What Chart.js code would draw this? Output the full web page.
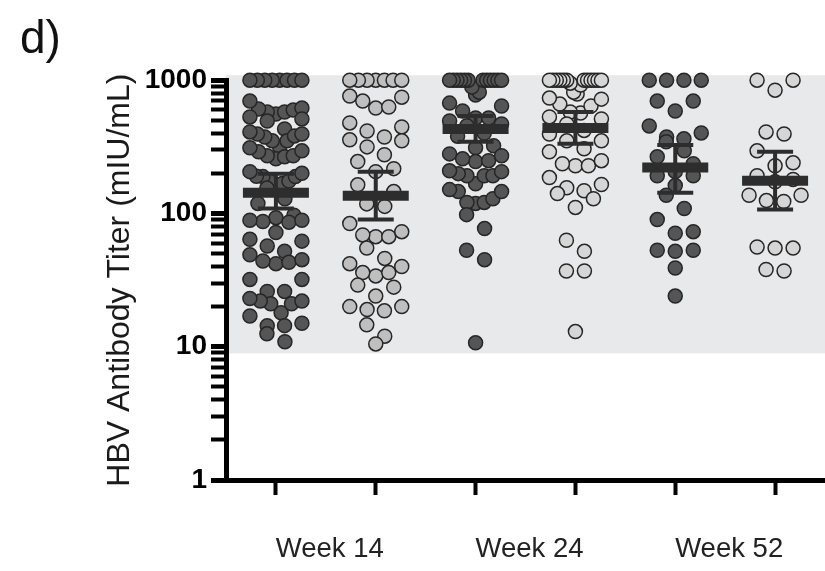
<!DOCTYPE html>
<html>
<head>
<meta charset="utf-8">
<title>HBV antibody titer</title>
<script src="https://cdn.jsdelivr.net/npm/chart.js@4.4.0/dist/chart.umd.min.js"></script>
<style>
    html, body { margin: 0; padding: 0; background: #fff; }
    #wrap { width: 825px; height: 571px; }
</style>
</head>
<body>
<div id="wrap"><canvas id="titerChart"></canvas></div>
<script>
// Groups along the x axis, two columns (dark / light) per week
const categories = ['Week 14', 'Week 24', 'Week 52'];
const yTicks = [1, 10, 100, 1000];
const bandRange = [8.9, 1090];   // shaded region behind the dots

// Individual titers (mIU/mL), values above the assay limit sit at 1000
const week14Dark = [1000, 1000, 1000, 1000, 1000, 1000, 1000, 1000,
    697, 618, 608, 597, 577, 577, 557, 530, 512, 494,
    431, 409, 395, 395, 382, 375, 351, 351,
    316, 311, 295, 290, 271, 271, 266, 257,
    206, 200, 190, 189, 189, 175, 175, 168, 165, 155, 129, 119,
    97, 93, 89, 89, 87, 86, 72, 64, 62, 57, 52, 49, 45, 44, 43, 42,
    32, 32, 26, 26, 23, 22, 22, 21, 21, 18, 17, 15, 14.4, 14.4, 12.5, 10.9];
const week14Light = [1000, 1000, 1000, 1000, 1000, 1000, 1000,
    760, 746, 697, 629, 618, 478, 446, 416, 375, 357, 351, 316,
    276, 245, 217, 206, 164, 146, 127, 118, 113,
    84, 73, 69, 67, 67, 55, 46, 42, 40, 36, 36, 34, 29, 28, 24,
    20, 20, 19, 18.6, 14.6, 12, 10.5];
const week24Dark = [1000, 1000, 1000, 1000, 1000, 1000, 1000, 1000, 1000, 1000, 1000, 1000,
    887, 813, 773, 673, 640, 587, 520, 520, 494, 470, 455, 400, 380,
    322, 311, 280, 271, 257, 249, 245, 209, 206, 199, 192, 192, 192, 167,
    151, 146, 146, 129, 121, 121, 119, 98, 77, 53, 45, 10.7];
const week24Light = [1000, 1000, 1000, 1000, 1000, 1000, 1000, 1000, 1000, 1000, 1000, 1000,
    950, 920, 813, 787, 734, 721, 662, 640, 577, 567, 530, 512, 470, 420,
    395, 351, 351, 306, 290, 249, 236, 228, 228, 186, 165, 156, 148, 141,
    129, 111, 63, 52, 37, 37, 13];
const week52Dark = [1000, 1000, 1000, 1000, 697, 697, 587, 454, 402, 375, 363, 345,
    295, 266, 236, 206, 192, 192, 162, 137, 109, 90, 73, 71, 53, 53, 52, 39, 24];
const week52Light = [1000, 1000, 842, 409, 395, 295, 240, 228, 192, 180, 173,
    137, 137, 125, 123, 56, 55, 55, 38, 37];

// Geometric mean with 95% CI for each column
const geoMean = [143, 136, 431, 438, 221, 176];
const ciLow = [109, 90, 345, 333, 143, 107];
const ciHigh = [199, 206, 539, 577, 327, 290];

const FONT = "'Liberation Sans', Arial, Helvetica, sans-serif";
const DARK_FILL = '#555555';
const BAR_COLOR = '#2d2d2d';

// swarm layout, in pixels of the plot (1 decade = 133px, 1 column = 100px)
const PX_PER_DECADE = 400 / 3;
const PX_PER_UNIT = 599 / 6;
const ROW_PX = 15;
const SLOT_PX = 18;
const HALF_SPREAD = 26;

// Prism style dot plot: dots grouped in rows, lowest value of a row in the middle
function swarm(values, column) {
    const sorted = values.slice().sort((a, b) => b - a);
    const rows = [];
    let row = null, rowTop = 0;
    sorted.forEach(v => {
        const depth = (3 - Math.log10(v)) * PX_PER_DECADE;
        if (!row || depth - rowTop >= ROW_PX) {
            row = [];
            rows.push(row);
            rowTop = depth;
        }
        row.push(v);
    });

    const pts = [];
    rows.forEach(r => {
        r.sort((a, b) => a - b);
        const n = r.length;
        const step = n > 1 ? Math.min(SLOT_PX, 2 * HALF_SPREAD / (n - 1)) : 0;
        const slots = [];
        for (let j = 0; j < n; j++) slots.push((j - (n - 1) / 2) * step);
        slots.sort((a, b) => Math.abs(a) - Math.abs(b) || b - a);
        r.forEach((v, i) => pts.push({ x: column + slots[i] / PX_PER_UNIT, y: v }));
    });
    return pts;
}

function dotSet(values, column, fill) {
    return {
        type: 'scatter',
        data: swarm(values, column),
        pointRadius: 7,
        pointHoverRadius: 7,
        pointBackgroundColor: fill,
        pointBorderColor: '#262626',
        pointBorderWidth: 1.5,
        clip: false,
        order: 3
    };
}

const columns = geoMean.map((v, i) => i + 1);

const whiskers = [];
columns.forEach((c, i) => {
    whiskers.push({ x: c, y: ciLow[i] }, { x: c, y: ciHigh[i] }, { x: c, y: null });
});
const caps = columns.flatMap((c, i) => [{ x: c, y: ciLow[i] }, { x: c, y: ciHigh[i] }]);
const means = columns.map((c, i) => ({ x: c, y: geoMean[i] }));

// week names sit between their two columns, nudged a little right
const labelTicks = [1.54, 3.54, 5.54];

const bandPlugin = {
    id: 'band',
    beforeDraw(chart) {
        const { ctx, chartArea, scales: { y } } = chart;
        const top = y.getPixelForValue(bandRange[1]);
        const bottom = y.getPixelForValue(bandRange[0]);
        ctx.save();
        ctx.fillStyle = '#e8e9eb';
        ctx.fillRect(chartArea.left, top, chart.width - chartArea.left, bottom - top);
        ctx.restore();
    }
};

new Chart(document.getElementById('titerChart'), {
    type: 'scatter',
    data: {
        datasets: [
            {
                type: 'scatter',
                data: means,
                pointStyle: 'line',
                pointRadius: 33,
                pointHoverRadius: 33,
                pointBorderWidth: 10,
                pointHoverBorderWidth: 10,
                pointBorderColor: BAR_COLOR,
                clip: false,
                order: 0
            },
            {
                type: 'scatter',
                data: caps,
                pointStyle: 'line',
                pointRadius: 18,
                pointHoverRadius: 18,
                pointBorderWidth: 4,
                pointHoverBorderWidth: 4,
                pointBorderColor: BAR_COLOR,
                clip: false,
                order: 1
            },
            {
                type: 'scatter',
                data: whiskers,
                showLine: true,
                spanGaps: false,
                borderColor: BAR_COLOR,
                borderWidth: 4,
                pointRadius: 0,
                pointHoverRadius: 0,
                clip: false,
                order: 2
            },
            dotSet(week14Dark, 1, DARK_FILL),
            dotSet(week14Light, 2, '#bfbfbf'),
            dotSet(week24Dark, 3, DARK_FILL),
            dotSet(week24Light, 4, '#d6d6d6'),
            dotSet(week52Dark, 5, DARK_FILL),
            dotSet(week52Light, 6, '#d6d6d6')
        ]
    },
    options: {
        responsive: true,
        maintainAspectRatio: false,
        animation: false,
        events: [],
        layout: {
            // the wide mean markers would otherwise pad the plot on every side
            autoPadding: false,
            padding: { left: 20, right: 0, top: 0, bottom: 0 }
        },
        plugins: {
            legend: { display: false },
            tooltip: { enabled: false },
            title: {
                display: true,
                text: 'd)',
                align: 'start',
                color: '#111',
                font: { family: FONT, size: 46, weight: 'normal' },
                padding: { top: 13, bottom: 12 }
            }
        },
        scales: {
            x: {
                type: 'linear',
                min: 0.5,
                max: 6.5,
                offset: false,
                afterBuildTicks(scale) {
                    const marks = [1, 2, 3, 4, 5, 6].concat(labelTicks).sort((a, b) => a - b);
                    scale.ticks = marks.map(v => ({ value: v }));
                },
                afterFit(scale) {
                    scale.height = 91;
                    scale.paddingLeft = 0;
                    scale.paddingRight = 0;
                },
                ticks: {
                    autoSkip: false,
                    maxRotation: 0,
                    padding: 38,
                    color: '#222',
                    font: { family: FONT, size: 27.5 },
                    callback(value) {
                        const i = labelTicks.indexOf(value);
                        return i >= 0 ? categories[i] : '';
                    }
                },
                grid: {
                    offset: false,
                    drawOnChartArea: false,
                    drawTicks: true,
                    tickLength: 15,
                    tickWidth: 4,
                    tickColor: ctx => Number.isInteger(ctx.tick.value) ? '#000' : 'rgba(0,0,0,0)'
                },
                border: { display: true, color: '#000', width: 5 }
            },
            y: {
                type: 'logarithmic',
                min: 1,
                max: 1000,
                afterBuildTicks(scale) {
                    const t = [];
                    for (let d = 1; d < 1000; d *= 10) {
                        for (let m = 1; m < 10; m++) t.push({ value: m * d });
                    }
                    t.push({ value: 1000 });
                    scale.ticks = t;
                },
                afterFit(scale) { scale.width = 206; },
                ticks: {
                    autoSkip: false,
                    padding: 4,
                    color: '#000',
                    font: { family: FONT, size: 28, weight: 'bold' },
                    callback(value) {
                        return yTicks.includes(value) ? String(value) : '';
                    }
                },
                grid: {
                    drawOnChartArea: false,
                    drawTicks: true,
                    tickLength: 15,
                    tickWidth: ctx => yTicks.includes(ctx.tick.value) ? 5 : 4,
                    tickColor: '#000'
                },
                border: { display: true, color: '#000', width: 5 },
                title: {
                    display: true,
                    text: 'HBV Antibody Titer (mIU/mL)',
                    color: '#1a1a1a',
                    font: { family: FONT, size: 32, weight: 'normal' },
                    padding: { top: 81, bottom: 0 }
                }
            }
        }
    },
    plugins: [bandPlugin]
});
</script>
</body>
</html>
